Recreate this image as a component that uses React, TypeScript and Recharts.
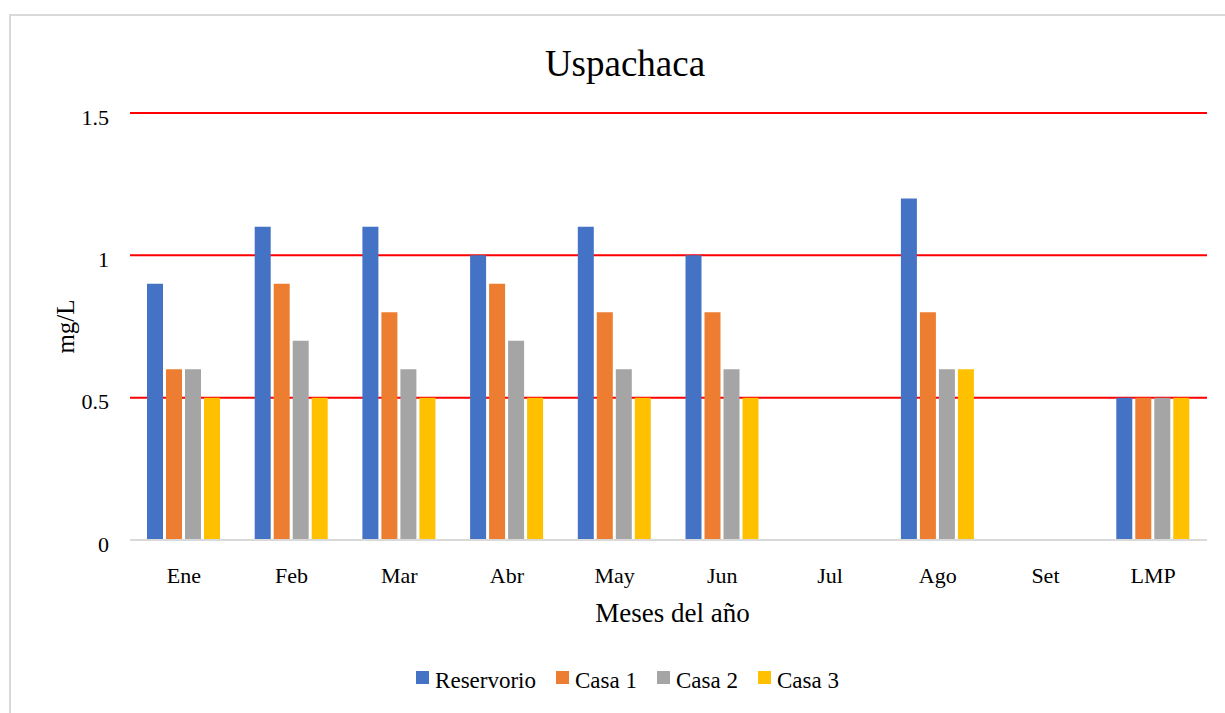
import { BarChart, Bar, XAxis, YAxis, CartesianGrid, Legend, Label } from 'recharts'

const meses = ['Ene', 'Feb', 'Mar', 'Abr', 'May', 'Jun', 'Jul', 'Ago', 'Set', 'LMP']
const reservorio = [0.9, 1.1, 1.1, 1.0, 1.1, 1.0, null, 1.2, null, 0.5]
const casa1 = [0.6, 0.9, 0.8, 0.9, 0.8, 0.8, null, 0.8, null, 0.5]
const casa2 = [0.6, 0.7, 0.6, 0.7, 0.6, 0.6, null, 0.6, null, 0.5]
const casa3 = [0.5, 0.5, 0.5, 0.5, 0.5, 0.5, null, 0.6, null, 0.5]
const yTicks = [0, 0.5, 1, 1.5]

const series = [
  { key: 'Reservorio', color: '#4472C4' },
  { key: 'Casa 1', color: '#ED7D31' },
  { key: 'Casa 2', color: '#A5A5A5' },
  { key: 'Casa 3', color: '#FFC000' },
]

const data = meses.map((m, i) => ({
  mes: m,
  Reservorio: reservorio[i],
  'Casa 1': casa1[i],
  'Casa 2': casa2[i],
  'Casa 3': casa3[i],
}))

const font = "'Liberation Serif', 'Times New Roman', serif"

// leyenda en el mismo orden que las series
function Leyenda() {
  return (
    <div style={{ display: 'flex', justifyContent: 'center', alignItems: 'center', fontFamily: font, fontSize: 23, color: '#000', paddingLeft: 30 }}>
      {series.map((s, i) => (
        <span key={s.key} style={{ display: 'inline-flex', alignItems: 'center', marginRight: i < series.length - 1 ? 20 : 0 }}>
          <span style={{ width: 13, height: 13, background: s.color, display: 'inline-block', marginRight: 6, marginTop: -8 }} />
          {s.key}
        </span>
      ))}
    </div>
  )
}

export default function App() {
  return (
    <div style={{ position: 'absolute', left: 0, top: 0, width: 1225, height: 713, overflow: 'hidden', background: '#fff' }}>
      <div style={{
        position: 'absolute', left: 9, top: 14, width: 1400, height: 900,
        border: '2px solid #d9d9d9',
      }} />
      <div style={{
        position: 'absolute', left: 25, top: 42, width: 1200, textAlign: 'center',
        fontFamily: font, fontSize: 37, color: '#000', lineHeight: '44px',
      }}>
        Uspachaca
      </div>
      <div style={{ position: 'absolute', left: 0, top: 0 }}>
        <BarChart
          width={1225} height={713} data={data}
          margin={{ top: 113, right: 18, bottom: 93, left: 70 }}
          barGap={3} style={{ fontFamily: font }}
        >
          <CartesianGrid horizontal vertical={false} stroke="#FF0000" strokeWidth={2} horizontalValues={[0.5, 1, 1.5]} />
          <XAxis
            dataKey="mes" height={80} tickSize={0} tickMargin={27}
            axisLine={{ stroke: '#d9d9d9', strokeWidth: 2 }} tickLine={false}
            tick={{ fontSize: 22, fill: '#000', fontFamily: font }}
          >
            <Label content={({ viewBox }: any) => (
              <text x={viewBox.x + viewBox.width / 2 + 4} y={viewBox.y + 82} textAnchor="middle"
                fontSize={27} fontFamily={font} fill="#000">Meses del año</text>
            )} />
          </XAxis>
          <YAxis
            width={60} domain={[0, 1.5]} ticks={yTicks} tickSize={0} tickMargin={21}
            axisLine={false} tickLine={false}
            tick={{ fontSize: 22, fill: '#000', fontFamily: font, dy: 4 }}
          >
            <Label content={({ viewBox }: any) => {
              const cx = 74
              const cy = viewBox.y + viewBox.height / 2
              return (
                <text x={cx} y={cy} transform={`rotate(-90, ${cx}, ${cy})`} textAnchor="middle"
                  fontSize={25} fontFamily={font} fill="#000">mg/L</text>
              )
            }} />
          </YAxis>
          <Legend verticalAlign="middle" align="center" layout="horizontal"
            wrapperStyle={{ top: 668, left: 0, width: 1225 }} content={<Leyenda />} />
          {series.map(s => (
            <Bar key={s.key} dataKey={s.key} fill={s.color} barSize={16} isAnimationActive={false} />
          ))}
        </BarChart>
      </div>
    </div>
  )
}
